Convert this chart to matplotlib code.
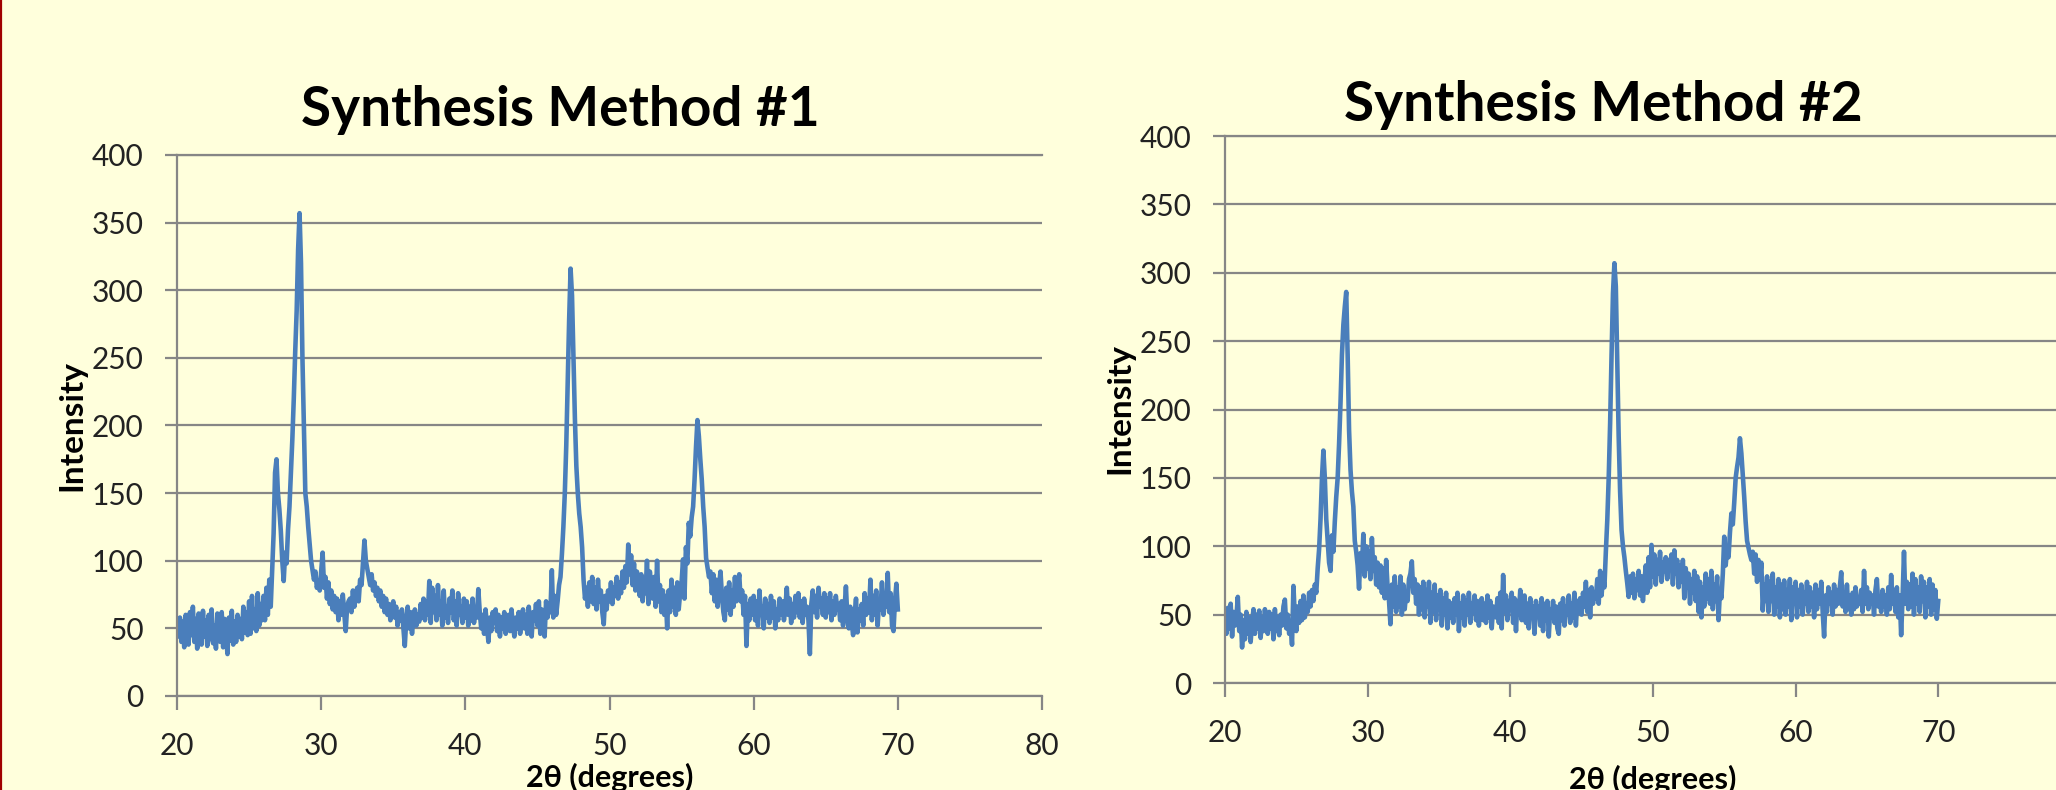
import numpy as np
import matplotlib
matplotlib.use("Agg")
import matplotlib.pyplot as plt
from matplotlib.lines import Line2D

plt.rcParams['font.family'] = ['Lato', 'DejaVu Sans']

# 2-theta positions of the scans (0.1 degree steps, 20..70)
two_theta = np.round(np.arange(20.0, 70.05, 0.1), 1)

# intensity, one row per degree
method1 = [
    52, 44, 58, 40, 55, 36, 60, 47, 38, 62,
    45, 66, 40, 57, 35, 61, 48, 38, 63, 44,
    56, 37, 60, 42, 64, 39, 52, 35, 61, 46,
    40, 62, 36, 57, 45, 31, 58, 41, 63, 38,
    55, 40, 60, 44, 57, 42, 66, 47, 62, 45,
    70, 46, 74, 50, 64, 48, 76, 52, 68, 56,
    74, 56, 80, 60, 86, 66, 94, 120, 165, 175,
    150, 138, 122, 100, 85, 106, 98, 123, 140, 165,
    190, 220, 255, 285, 330, 357, 320, 250, 200, 150,
    140, 125, 112, 100, 93, 86, 92, 80, 85, 78,
    92, 106, 80, 88, 72, 84, 68, 78, 64, 74,
    62, 72, 56, 70, 60, 75, 62, 48, 66, 70,
    72, 62, 78, 66, 74, 80, 70, 86, 82, 98,
    115, 100, 94, 88, 82, 90, 78, 84, 74, 80,
    70, 78, 66, 74, 62, 72, 60, 68, 56, 64,
    70, 58, 66, 52, 62, 56, 64, 50, 37, 56,
    66, 50, 62, 46, 58, 64, 52, 60, 55, 68,
    58, 72, 56, 70, 60, 85, 54, 80, 62, 74,
    56, 82, 60, 70, 52, 78, 58, 66, 54, 72,
    62, 78, 56, 70, 52, 76, 60, 66, 54, 72,
    58, 70, 52, 66, 56, 72, 54, 64, 58, 79,
    62, 50, 60, 46, 64, 52, 40, 58, 48, 62,
    54, 64, 48, 60, 44, 58, 50, 62, 46, 56,
    60, 48, 64, 52, 44, 58, 50, 62, 46, 56,
    64, 50, 60, 46, 66, 52, 44, 62, 56, 68,
    52, 70, 46, 64, 56, 44, 70, 58, 66, 62,
    93, 58, 74, 60, 70, 82, 88, 105, 125, 150,
    185, 230, 278, 316, 296, 250, 205, 170, 150, 135,
    125, 110, 86, 72, 80, 66, 84, 70, 88, 68,
    80, 64, 86, 70, 78, 62, 53, 74, 64, 78,
    70, 84, 68, 80, 74, 88, 72, 84, 76, 92,
    80, 96, 84, 112, 90, 104, 82, 98, 78, 92,
    84, 74, 90, 70, 86, 76, 100, 68, 92, 80,
    72, 88, 66, 100, 70, 82, 62, 78, 60, 74,
    50, 78, 62, 86, 66, 80, 60, 84, 64, 76,
    84, 101, 72, 110, 98, 128, 118, 132, 140, 160,
    184, 204, 192, 175, 160, 140, 125, 102, 95, 88,
    92, 76, 90, 70, 86, 66, 82, 92, 74, 62,
    56, 80, 64, 84, 60, 78, 66, 88, 70, 82,
    90, 70, 78, 60, 74, 37, 68, 56, 72, 60,
    74, 56, 70, 52, 78, 60, 66, 50, 72, 58,
    68, 54, 74, 58, 70, 50, 64, 56, 72, 60,
    70, 56, 66, 80, 60, 72, 54, 68, 58, 74,
    62, 76, 58, 70, 54, 72, 60, 66, 56, 31,
    68, 78, 62, 74, 58, 80, 66, 72, 60, 76,
    58, 72, 62, 76, 56, 70, 60, 74, 64, 68,
    56, 70, 52, 64, 81, 58, 50, 66, 54, 45,
    60, 72, 47, 64, 56, 68, 52, 76, 60, 72,
    62, 86, 56, 74, 60, 78, 52, 70, 64, 84,
    60, 72, 66, 91, 62, 76, 52, 48, 70, 83,
    64,
]

method2 = [
    44, 36, 55, 40, 58, 34, 52, 42, 48, 63,
    38, 50, 26, 46, 32, 52, 36, 48, 30, 44,
    54, 36, 50, 40, 53, 33, 48, 38, 54, 42,
    36, 52, 40, 50, 32, 54, 38, 48, 35, 50,
    42, 56, 61, 40, 50, 36, 44, 28, 71, 48,
    38, 56, 44, 60, 46, 64, 48, 58, 52, 66,
    56, 68, 60, 72, 66, 84, 98, 120, 150, 170,
    150, 120, 104, 88, 82, 108, 96, 118, 136, 150,
    175, 205, 240, 262, 275, 286, 240, 185, 156, 140,
    129, 104, 96, 86, 69, 95, 84, 109, 78, 100,
    84, 96, 76, 106, 82, 92, 72, 88, 70, 86,
    66, 84, 62, 90, 70, 60, 43, 72, 56, 78,
    52, 70, 56, 78, 50, 72, 54, 66, 60, 76,
    80, 89, 66, 76, 58, 72, 50, 70, 54, 74,
    48, 68, 56, 74, 44, 66, 52, 72, 46, 64,
    54, 68, 42, 62, 50, 66, 40, 60, 48, 58,
    44, 62, 50, 66, 38, 58, 48, 64, 42, 60,
    50, 66, 44, 58, 52, 64, 46, 60, 42, 56,
    62, 46, 58, 44, 64, 48, 60, 40, 56, 52,
    48, 62, 44, 66, 40, 79, 52, 64, 46, 60,
    54, 66, 44, 62, 38, 60, 50, 68, 46, 58,
    64, 44, 58, 40, 62, 48, 56, 36, 60, 50,
    56, 42, 62, 38, 58, 46, 60, 34, 54, 48,
    60, 44, 56, 40, 36, 58, 46, 62, 42, 56,
    50, 64, 44, 58, 48, 66, 42, 60, 52, 62,
    50, 66, 56, 74, 52, 68, 48, 70, 58, 66,
    62, 76, 58, 82, 64, 78, 70, 96, 119, 150,
    190, 240, 285, 307, 290, 235, 180, 140, 112, 100,
    92, 82, 73, 63, 78, 66, 80, 62, 76, 68,
    82, 64, 78, 60, 74, 86, 66, 92, 70, 101,
    78, 94, 72, 90, 80, 96, 74, 88, 82, 92,
    76, 90, 84, 94, 72, 97, 80, 90, 70, 86,
    74, 90, 62, 84, 70, 80, 58, 76, 66, 82,
    60, 78, 52, 74, 48, 70, 56, 80, 62, 76,
    58, 82, 54, 72, 60, 78, 46, 68, 62, 80,
    107, 86, 98, 92, 110, 124, 116, 132, 150, 158,
    165, 179, 168, 152, 136, 118, 104, 99, 94, 90,
    96, 80, 94, 74, 90, 76, 88, 53, 72, 60,
    78, 52, 74, 60, 80, 50, 70, 56, 76, 48,
    72, 54, 75, 50, 68, 56, 76, 46, 70, 58,
    74, 48, 68, 56, 72, 50, 66, 58, 74, 52,
    70, 56, 66, 48, 72, 54, 68, 58, 74, 52,
    34, 64, 52, 70, 58, 66, 50, 72, 56, 68,
    58, 70, 81, 56, 66, 52, 72, 54, 64, 50,
    66, 54, 70, 56, 62, 58, 68, 52, 82, 58,
    70, 54, 66, 58, 64, 50, 68, 76, 56, 62,
    52, 68, 56, 64, 50, 70, 54, 79, 58, 66,
    52, 70, 48, 64, 35, 62, 96, 58, 74, 54,
    72, 56, 80, 50, 76, 58, 70, 52, 78, 60,
    74, 48, 70, 56, 76, 50, 72, 54, 68, 47,
    60,
]

titles = ["Synthesis Method #1", "Synthesis Method #2"]
x_ticks = [20, 30, 40, 50, 60, 70, 80]
y_ticks = [0, 50, 100, 150, 200, 250, 300, 350, 400]

BG = '#FFFFDC'
GRID = '#868686'
LINE = '#4A7EBB'

fig = plt.figure(figsize=(20.56, 7.90), dpi=100, facecolor=BG)

# axes boxes in figure fractions (second chart runs past the right edge)
boxes = [
    [0.0861, 0.1190, 0.4207, 0.6848],
    [0.5958, 0.1354, 0.4163, 0.6924],
]
title_pos = [(0.2724, 0.8405), (0.7797, 0.8468)]
ylab_pos = [(0.0350, 0.4608), (0.5447, 0.4835)]
xlab_pos = [(0.2965, 0.0342), (0.8040, 0.0316)]

for i, series in enumerate([method1, method2]):
    ax = fig.add_axes(boxes[i])
    ax.set_facecolor(BG)
    ax.plot(two_theta, series, color=LINE, linewidth=3.3, solid_joinstyle='round')

    ax.set_xlim(20, 80)
    ax.set_ylim(0, 400)
    ax.set_xticks(x_ticks)
    # the "80" of the right chart falls outside the picture
    labels = [str(t) for t in x_ticks]
    if i == 1:
        labels[-1] = ''
    ax.set_xticklabels(labels)
    ax.set_yticks(y_ticks)
    ax.grid(axis='y', color=GRID, linewidth=1.6)
    ax.set_axisbelow(True)

    for side in ['left', 'top', 'bottom']:
        ax.spines[side].set_color(GRID)
        ax.spines[side].set_linewidth(1.6)
    ax.spines['right'].set_visible(False)

    ax.tick_params(axis='x', direction='out', length=10, width=1.6, color=GRID,
                   pad=16, labelsize=21.5, labelcolor='#222222')
    ax.tick_params(axis='y', direction='out', length=9, width=1.6, color=GRID,
                   pad=15, labelsize=21.5, labelcolor='#222222')

    fig.text(*title_pos[i], titles[i], ha='center', va='baseline',
             fontsize=39.5, fontweight='bold', color='black')
    fig.text(*ylab_pos[i], "Intensity", ha='center', va='center', rotation=90,
             fontsize=24, fontweight='bold', color='black')
    fig.text(*xlab_pos[i], "2θ (degrees)", ha='center', va='top',
             fontsize=22, fontweight='bold', color='black')

# thin dark red border on the left edge
fig.add_artist(Line2D([0.0006, 0.0006], [0, 1], transform=fig.transFigure,
                      color='#A00000', linewidth=1.6))

fig.savefig('out.png', dpi=100, facecolor=BG)
